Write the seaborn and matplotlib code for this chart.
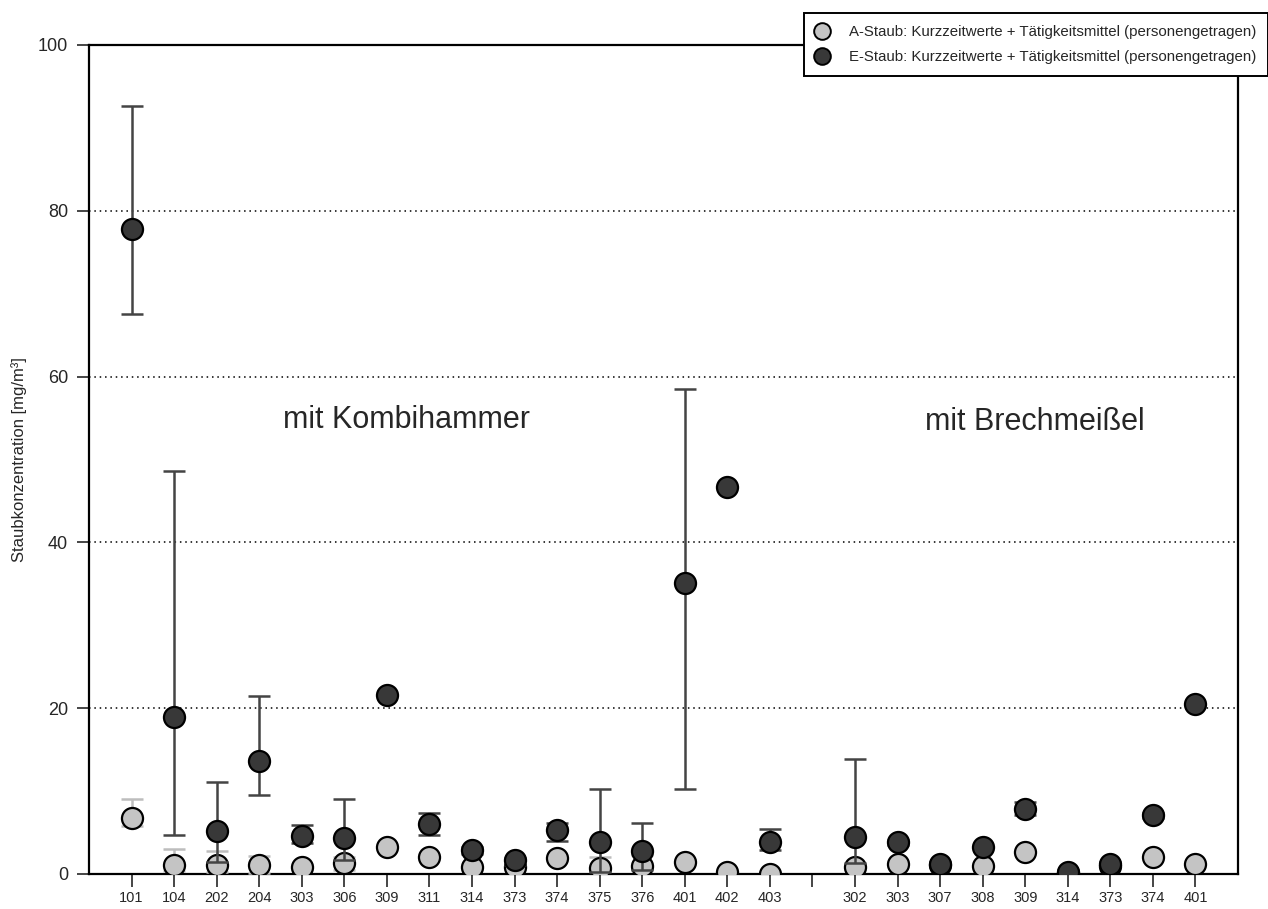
# Staubkonzentration: A-Staub / E-Staub mit Fehlerbalken
import seaborn as sns
import numpy as np
import pandas as pd
import matplotlib
matplotlib.use("Agg")
import matplotlib.pyplot as plt
from matplotlib.lines import Line2D

# Messstellen (zwei Gruppen)
labels_kombi = ["101", "104", "202", "204", "303", "306", "309", "311", "314",
                "373", "374", "375", "376", "401", "402", "403"]
labels_brech = ["302", "303", "307", "308", "309", "314", "373", "374", "401"]

nan = np.nan
# A-Staub (hell)
a_mean_kombi = [6.8, 1.1, 1.1, 1.1, 0.9, 1.3, 3.3, 2.0, 0.8, 0.9, 1.9, 0.7, 1.0, 1.5, 0.3, 0.0]
a_lo_kombi = [5.8, 0.4, 0.3, 0.1, nan, 0.5, nan, nan, nan, nan, nan, 0.35, 0.6, 1.3, nan, nan]
a_hi_kombi = [9.0, 3.0, 2.8, 2.2, nan, 2.0, nan, nan, nan, nan, nan, 2.1, 2.3, 1.7, nan, nan]
a_mean_brech = [0.9, 1.2, 1.1, 1.0, 2.6, 0.1, 1.0, 2.0, 1.2]
a_lo_brech = [nan] * 9
a_hi_brech = [nan] * 9

# E-Staub (dunkel)
e_mean_kombi = [77.8, 18.9, 5.2, 13.6, 4.6, 4.3, 21.6, 6.0, 2.9, 1.7, 5.3, 3.8, 2.8, 35.1, 46.7, 3.8]
e_lo_kombi = [67.5, 4.7, 1.4, 9.5, 3.7, 1.7, nan, 4.7, 2.4, 1.1, 4.0, 0.3, 0.5, 10.2, nan, 2.9]
e_hi_kombi = [92.6, 48.6, 11.1, 21.5, 5.9, 9.1, nan, 7.4, 3.3, 1.9, 6.2, 10.3, 6.2, 58.5, nan, 5.4]
e_mean_brech = [4.5, 3.8, 1.2, 3.2, 7.9, 0.2, 1.2, 7.1, 20.5]
e_lo_brech = [1.3, 3.5, nan, nan, 7.1, nan, 1.0, 6.8, nan]
e_hi_brech = [13.9, 4.1, nan, nan, 8.7, nan, 1.4, 7.4, nan]

legend_a = "A-Staub: Kurzzeitwerte + Tätigkeitsmittel (personengetragen)"
legend_e = "E-Staub: Kurzzeitwerte + Tätigkeitsmittel (personengetragen)"

sns.set_style("white")
plt.rcParams['font.family'] = ['Liberation Sans', 'DejaVu Sans']

# Positionen: Lücke zwischen den Gruppen
n1, n2 = len(labels_kombi), len(labels_brech)
pos = list(range(n1)) + list(range(n1 + 1, n1 + 1 + n2))
tick_labels = labels_kombi + [""] + labels_brech

df = pd.DataFrame({
    "pos": pos * 2,
    "wert": a_mean_kombi + a_mean_brech + e_mean_kombi + e_mean_brech,
    "lo": a_lo_kombi + a_lo_brech + e_lo_kombi + e_lo_brech,
    "hi": a_hi_kombi + a_hi_brech + e_hi_kombi + e_hi_brech,
    "art": ["A"] * (n1 + n2) + ["E"] * (n1 + n2),
})

colors = {"A": "#c4c4c4", "E": "#383838"}
err_colors = {"A": "#bdbdbd", "E": "#444444"}

fig = plt.figure(figsize=(12.68, 9.09), dpi=100)
ax = fig.add_axes([89 / 1268, 1 - 874 / 909, (1238 - 89) / 1268, (874 - 45) / 909])

for i, art in enumerate(["A", "E"]):
    sub = df[df["art"] == art]
    eb = sub.dropna(subset=["lo", "hi"])
    ax.errorbar(eb["pos"], eb["wert"],
                yerr=[eb["wert"] - eb["lo"], eb["hi"] - eb["wert"]],
                fmt="none", ecolor=err_colors[art], elinewidth=1.8,
                capsize=8, capthick=1.8, zorder=3 + 2 * i)
    sns.scatterplot(data=sub, x="pos", y="wert", color=colors[art], s=230,
                    edgecolor="black", linewidth=1.6, ax=ax, zorder=4 + 2 * i,
                    legend=False)

ax.set_xlim(-1, 26)
ax.set_ylim(0, 100)
ax.set_yticks([0, 20, 40, 60, 80, 100])
ax.set_xticks(range(n1 + 1 + n2))
ax.set_xticklabels(tick_labels, fontsize=10.5)
ax.tick_params(axis="y", labelsize=13, length=9, width=1.2, direction="out", left=True, pad=6)
ax.tick_params(axis="x", length=9, width=1.2, direction="out", bottom=True, pad=3)
for y in [20, 40, 60, 80]:
    ax.axhline(y, color="black", linestyle=(0, (1, 2.5)), linewidth=1.1, zorder=1)
for sp in ax.spines.values():
    sp.set_linewidth(1.6)
    sp.set_color("black")
ax.set_xlabel("")
ax.set_ylabel("Staubkonzentration [mg/m³]", fontsize=12)
ax.yaxis.set_label_coords(-62 / 1149, 0.5)

ax.text(3.55, 54.8, "mit Kombihammer", fontsize=22, va="center", ha="left")
ax.text(18.65, 54.5, "mit Brechmeißel", fontsize=22, va="center", ha="left")

handles = [
    Line2D([], [], marker="o", linestyle="none", markersize=12,
           markerfacecolor=colors["A"], markeredgecolor="black", markeredgewidth=1.4),
    Line2D([], [], marker="o", linestyle="none", markersize=12,
           markerfacecolor=colors["E"], markeredgecolor="black", markeredgewidth=1.4),
]
leg = fig.legend(handles, [legend_a, legend_e], loc="upper right",
                 bbox_to_anchor=(1.0, 1 - 13 / 909), borderaxespad=0,
                 fontsize=10.8, frameon=True, fancybox=False, framealpha=1,
                 edgecolor="black", handlelength=0.9, handletextpad=1.3,
                 labelspacing=0.75, borderpad=0.8)
leg.get_frame().set_linewidth(1.4)

fig.savefig("out.png", dpi=100)
plt.close()
